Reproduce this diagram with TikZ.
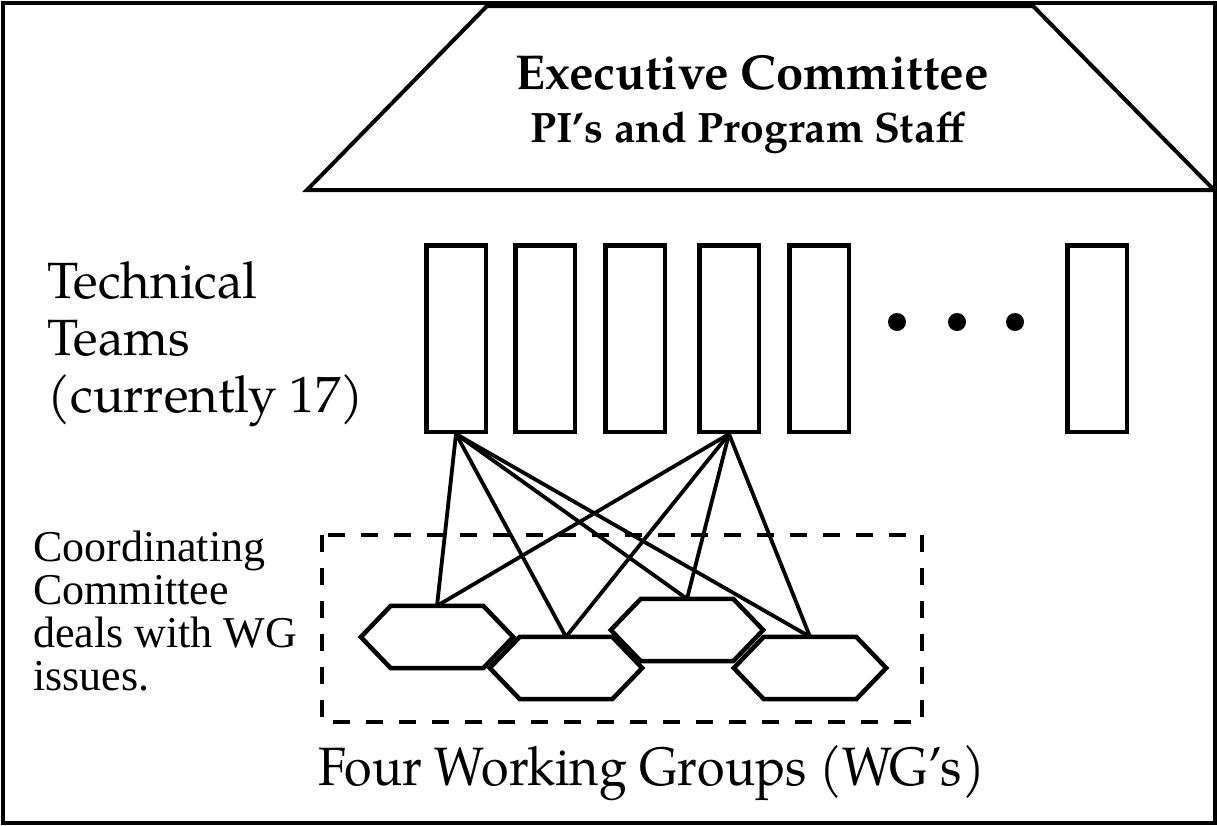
\documentclass[tikz,border=0pt]{standalone}
\usepackage{fontspec}
\setmainfont{TeX Gyre Pagella}
\newfontfamily\timesfont{Liberation Serif}
\tikzset{
  frame/.style={draw, line width=4pt},
  team/.style={draw, line width=4.5pt, minimum width=59.5pt, minimum height=186.5pt, inner sep=0pt},
  hexbox/.style={minimum width=152pt, minimum height=62pt, inner sep=0pt},
  hexline/.style={draw, fill=white, line width=4.5pt, line join=miter},
  link/.style={line width=3.8pt},
  dotmark/.style={circle, fill, inner sep=0pt, minimum size=18pt},
  lbl/.style={inner sep=0pt, anchor=base west},
}
\begin{document}
\begin{tikzpicture}[x=1pt,y=-1pt]
\useasboundingbox (0,0) rectangle (1217,825);
\fill[white] (0,0) rectangle (1217,825);
% outer frame
\draw[frame] (2.5,2.5) rectangle (1214.5,822.5);
% executive trapezoid
\draw[line width=4pt, line join=miter] (307,190) -- (487,6) -- (1033,6) -- (1214,190) -- cycle;
\node[inner sep=0pt, anchor=base, font=\bfseries\fontsize{49}{56}\selectfont] (exec) at (752,89) {Executive Committee};
\node[inner sep=0pt, anchor=base, font=\bfseries\fontsize{42.5}{50}\selectfont] (pis) at (748,142) {PI’s and Program Staff};
% technical teams label
\node[lbl, font=\fontsize{51}{57}\selectfont] (tt1) at (47,298) {Technical};
\node[lbl, font=\fontsize{51}{57}\selectfont] (tt2) at (47,355) {Teams};
\node[lbl, font=\fontsize{51}{57}\selectfont] (tt3) at (47,412) {(currently 17)};
% team boxes
\node[team] (b1) at (456,338.5) {};
\node[team] (b2) at (545,338.5) {};
\node[team] (b3) at (635,338.5) {};
\node[team] (b4) at (729,338.5) {};
\node[team] (b5) at (819,338.5) {};
\node[team] (b6) at (1097,338.5) {};
% dots
\node[dotmark] (d1) at (897,322) {};
\node[dotmark] (d2) at (957,322) {};
\node[dotmark] (d3) at (1015,322) {};
% coordinating committee
\draw[line width=4.5pt, dash pattern=on 17pt off 16pt] (322,535) rectangle (922,722);
\node[lbl, font=\timesfont\fontsize{44}{43}\selectfont] (cc1) at (33,561) {Coordinating};
\node[lbl, font=\timesfont\fontsize{44}{43}\selectfont] (cc2) at (33,604) {Committee};
\node[lbl, font=\timesfont\fontsize{44}{43}\selectfont] (cc3) at (33,647) {deals with WG};
\node[lbl, font=\timesfont\fontsize{44}{43}\selectfont] (cc4) at (33,690) {issues.};
% hexagon anchors
\node[hexbox] (h1) at (437,637) {};
\node[hexbox] (h2) at (566,668) {};
\node[hexbox] (h3) at (687,630) {};
\node[hexbox] (h4) at (810,668) {};
% links
\foreach \h in {h1,h2,h3,h4} {
  \draw[link] (b1.south) -- (\h.north);
  \draw[link] (b4.south) -- (\h.north);
}
% hexagons
\foreach \h in {h1,h2,h3,h4} {
  \draw[hexline] (\h.west) -- ([xshift=30pt]\h.north west) -- ([xshift=-30pt]\h.north east) -- (\h.east) -- ([xshift=-30pt]\h.south east) -- ([xshift=30pt]\h.south west) -- cycle;
}
% working groups label
\node[lbl, font=\fontsize{54}{60}\selectfont] (wg) at (318,785) {\scalebox{0.93}[1]{Four Working Groups (WG’s)}};
\end{tikzpicture}
\end{document}
